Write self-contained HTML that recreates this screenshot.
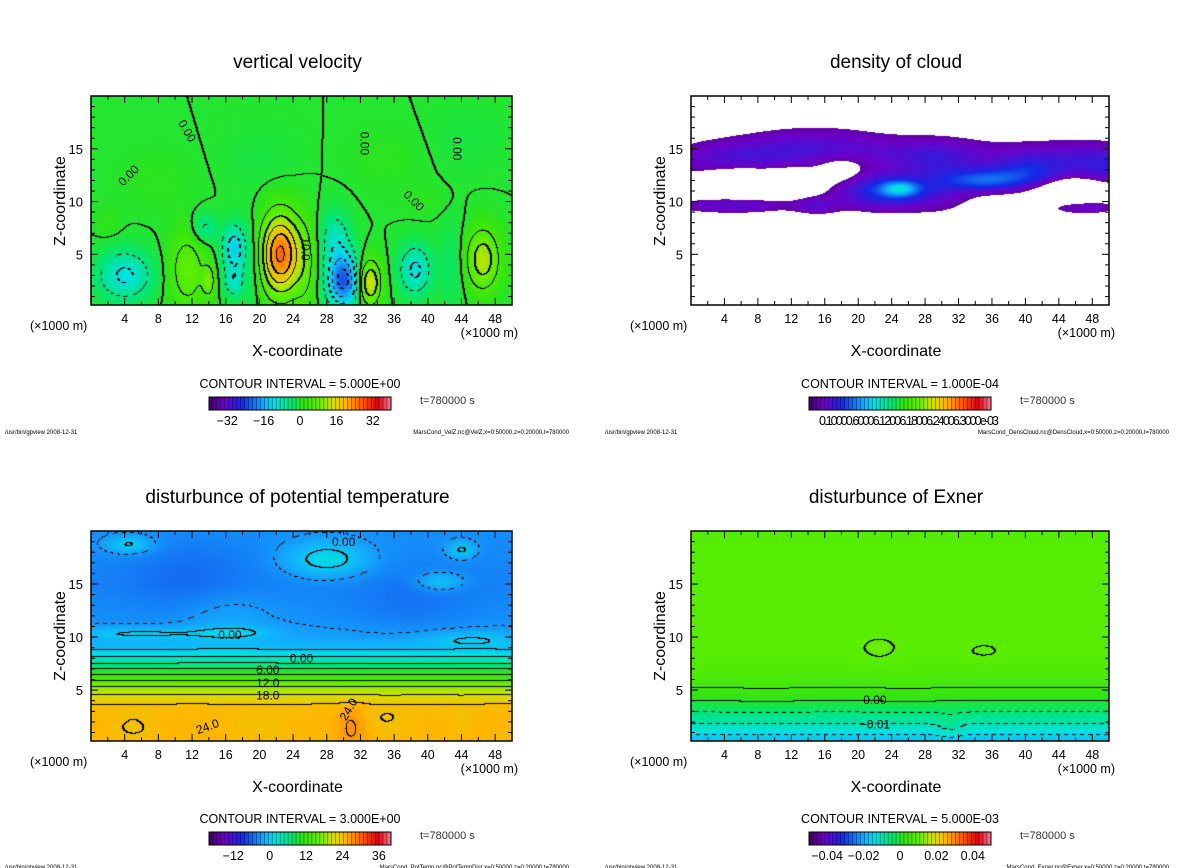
<!DOCTYPE html>
<html><head><meta charset="utf-8"><style>
html,body{margin:0;padding:0;background:#fff;}
#root{position:relative;width:1200px;height:868px;overflow:hidden;background:#fff;font-family:"Liberation Sans",sans-serif;}
canvas{position:absolute;}
svg{position:absolute;left:0;top:0;}
</style></head><body>
<div id="root">
<canvas id="c1" width="421" height="209" style="left:91px;top:96px"></canvas>
<canvas id="c2" width="418" height="209" style="left:691px;top:96px"></canvas>
<canvas id="c3" width="421" height="210" style="left:91px;top:531px"></canvas>
<canvas id="c4" width="418" height="210" style="left:691px;top:531px"></canvas>
<svg id="ov" width="1200" height="868"></svg>
</div>
<script>
// ---- data ----
const xTicks=[4,8,12,16,20,24,28,32,36,40,44,48];
const zTicks=[5,10,15];
const velCbLabels=[-32,-16,0,16,32];
const ptCbLabels=[-12,0,12,24,36];
const exCbLabels=[-0.04,-0.02,0,0.02,0.04];
// blobs: [x(km), z(km), sx, sz, amplitude]
const velBlobs=[[22.5,5,1.6,2.6,26],[30,2.5,1.4,1.8,-22],[29,6.5,1.2,1.8,-8],[17,5.5,1.0,1.6,-13],[17,2.3,0.8,1,-8],[33,2.3,1.0,1.5,16],[46.5,4.5,1.4,2,13],[4,3,2.2,1.6,-11],[38.5,3.5,1.3,1.6,-11],[11.5,3.5,1.5,2.5,8],[14,2.5,0.5,1,8],[13.5,7.5,1,1,-6],[25.5,4,1,3,5],[19.3,4,0.8,3,-3],[43,4,1.2,3,-3],[8,12,3,2,1],[20,14,3,2,-1],[35,14,3,2,1],[45,16,3,2,-1],[2,8,1,1,1.5],[40,10,2,1,1]];
const cloudBlobs=[[5,14,6,1.3,1.2],[15,15.3,6,1.3,1.1],[28,14.5,6,1.2,1.0],[44,14,6,1.3,1.2],[50,13,3,1.5,1.0],[5,9.6,5,0.5,1.2],[15,9.6,2,0.6,0.9],[23,11,4,1.2,2.2],[25,11.2,1.5,0.5,2.5],[35,12,3,0.7,2.2],[40,12.5,3,1,1.5],[30,12,3,2,1.0],[47,9.5,3,0.5,1.1],[6,12,3,0.8,-1.5],[12,12,2,0.7,-1.2],[46,11,3,0.8,-1.5],[18,13,2,1,-0.6]];
const ptProfileZ=[0,2,3.5,4.5,5.3,6,6.8,7.5,8.3,9,10,12,15,18,20];
const ptProfileV=[25,25,24.5,21,18,14,10,6,2,-1,-2.5,-3.5,-4.2,-3.8,-3.5];
const ptBlobs=[[28,17.3,3.5,1.2,5],[4.5,18.7,2,0.6,4],[44,18.2,1.2,0.6,4],[41.5,15.2,2,0.6,4],[6,10.3,6,0.4,3],[17,10.4,3,0.4,2.5],[45,9.8,4,0.5,2.5],[12,15.5,5,2.5,-1.5],[38,13,5,2,-1.2],[16,12,4,2,1.5],[31,1.5,1.2,1.5,2.5],[5,1.5,2,1,-1.2],[20,1.5,2.5,1,-1],[35,2,2.5,1,-1],[44,2,1,1,-0.8]];
const exProfileZ=[0,0.8,1.8,2.9,4.0,5.2,7,9,12,16,20];
const exProfileV=[-0.019,-0.015,-0.01,-0.005,0,0.005,0.0075,0.0085,0.0088,0.0085,0.008];
const exBlobs=[[22.5,8.8,1.8,0.9,0.0025],[35,8.6,1.8,0.6,0.0022],[9,4,3,1,0.0006],[26,4,3,1,0.0006],[31,1.5,1,0.8,0.003]];

const stops=[[0,60,0,100],[0.08,110,0,200],[0.18,20,40,230],[0.3,20,170,255],[0.36,0,225,230],[0.45,0,230,120],[0.52,50,228,20],[0.6,95,238,0],[0.68,210,225,0],[0.75,255,182,0],[0.85,255,80,0],[0.93,220,0,20],[1,240,130,150]];
function cmap(t){t=Math.max(0,Math.min(1,t));for(let i=1;i<stops.length;i++){if(t<=stops[i][0]){const a=stops[i-1],b=stops[i],f=(t-a[0])/(b[0]-a[0]);return [a[1]+(b[1]-a[1])*f,a[2]+(b[2]-a[2])*f,a[3]+(b[3]-a[3])*f];}}return stops[stops.length-1].slice(1);}
function blobSum(bl,x,z){let s=0;for(const b of bl){const dx=(x-b[0])/b[2],dz=(z-b[1])/b[3];s+=b[4]*Math.exp(-0.5*(dx*dx+dz*dz));}return s;}
function prof(Z,V,z){if(z<=Z[0])return V[0];for(let i=1;i<Z.length;i++){if(z<=Z[i]){const f=(z-Z[i-1])/(Z[i]-Z[i-1]);return V[i-1]+(V[i]-V[i-1])*f;}}return V[V.length-1];}
const ZMIN=0.2,ZMAX=20;
function render(id,fieldFn,tFn,ci,opts){
  const cv=document.getElementById(id),ctx=cv.getContext('2d'),W=cv.width,H=cv.height;
  const img=ctx.createImageData(W,H),d=img.data;
  const vals=new Float32Array(W*H);
  for(let py=0;py<H;py++)for(let px=0;px<W;px++){
    const x=(px+0.5)/W*50,z=ZMAX-(py+0.5)/H*(ZMAX-ZMIN);
    vals[py*W+px]=fieldFn(x,z);
  }
  for(let i=0;i<W*H;i++){
    const v=vals[i];let c;
    if(opts.threshold!==undefined&&v<opts.threshold)c=[255,255,255];else c=cmap(tFn(v));
    d[i*4]=c[0];d[i*4+1]=c[1];d[i*4+2]=c[2];d[i*4+3]=255;
  }
  if(ci){
    const lv=v=>Math.floor(v/ci);
    for(let py=0;py<H-1;py++)for(let px=0;px<W-1;px++){
      const i=py*W+px,a=lv(vals[i]),b=lv(vals[i+1]),c=lv(vals[i+W]);
      if(a!==b||a!==c){
        const lev=Math.max(a,b,c);
        if(lev<0&&((px+py)%8)>=4)continue;
        d[i*4]=0;d[i*4+1]=0;d[i*4+2]=0;
        if(opts.thick&&lev%2===0){const j=i+1;d[j*4]=0;d[j*4+1]=0;d[j*4+2]=0;}
      }
    }
  }
  ctx.putImageData(img,0,0);
}
render('c1',(x,z)=>blobSum(velBlobs,x,z),v=>(v+40)/80,5,{thick:true});
render('c2',(x,z)=>blobSum(cloudBlobs,x,z),v=>0.05+(v-0.5)*0.08,0,{threshold:0.5});
render('c3',(x,z)=>prof(ptProfileZ,ptProfileV,z)+blobSum(ptBlobs,x,z),v=>(v+20)/60,3,{thick:true});
render('c4',(x,z)=>prof(exProfileZ,exProfileV,z)+blobSum(exBlobs,x,z),v=>(v+0.05)/0.1,0.005,{thick:true});

// ---- overlay ----
const NS='http://www.w3.org/2000/svg',ov=document.getElementById('ov');
function el(tag,attrs,parent,text){const e=document.createElementNS(NS,tag);for(const k in attrs)e.setAttribute(k,attrs[k]);if(text!==undefined)e.textContent=text;(parent||ov).appendChild(e);return e;}
const panels=[
 {L:91,T:96,W:421,H:209,title:'vertical velocity',ci:'CONTOUR INTERVAL = 5.000E+00',cb:velCbLabels,cbMin:-40,cbMax:40,foot:'MarsCond_VelZ.nc@VelZ,x=0:50000,z=0:20000,t=780000',key:'velocity'},
 {L:691,T:96,W:418,H:209,title:'density of cloud',ci:'CONTOUR INTERVAL = 1.000E-04',cb:null,foot:'MarsCond_DensCloud.nc@DensCloud,x=0:50000,z=0:20000,t=780000',key:'cloud'},
 {L:91,T:531,W:421,H:210,title:'disturbunce of potential temperature',ci:'CONTOUR INTERVAL = 3.000E+00',cb:ptCbLabels,cbMin:-20,cbMax:40,foot:'MarsCond_PotTemp.nc@PotTempDist,x=0:50000,z=0:20000,t=780000',key:'pottemp'},
 {L:691,T:531,W:418,H:210,title:'disturbunce of Exner',ci:'CONTOUR INTERVAL = 5.000E-03',cb:exCbLabels,cbMin:-0.05,cbMax:0.05,foot:'MarsCond_Exner.nc@Exner,x=0:50000,z=0:20000,t=780000',key:'exner'}
];
panels.forEach(p=>{
  const g=el('g',{});
  
  
  const sx=x=>p.L+x/50*p.W, sz=z=>p.T+p.H*(ZMAX-z)/(ZMAX-ZMIN);
  const t=el('text',{x:p.L+p.W/2-4,y:p.T-28,'font-size':19,'text-anchor':'middle',fill:'#000'},g,p.title);
  
  const fr=el('rect',{x:p.L,y:p.T,width:p.W,height:p.H,fill:'none',stroke:'#000','stroke-width':1.5},g);
  
  for(let xv=2;xv<50;xv+=2){const maj=xv%4===0,len=maj?7:4;
    el('line',{x1:sx(xv),x2:sx(xv),y1:p.T+p.H,y2:p.T+p.H-len,stroke:'#000'},g);
    el('line',{x1:sx(xv),x2:sx(xv),y1:p.T,y2:p.T+len,stroke:'#000'},g);}
  for(let zv=1;zv<20;zv++){const maj=zv%5===0,len=maj?7:4;
    el('line',{x1:p.L,x2:p.L+len,y1:sz(zv),y2:sz(zv),stroke:'#000'},g);
    el('line',{x1:p.L+p.W,x2:p.L+p.W-len,y1:sz(zv),y2:sz(zv),stroke:'#000'},g);}
  xTicks.forEach(v=>{const tl=el('text',{x:sx(v),y:p.T+p.H+18,'font-size':12.5,'text-anchor':'middle'},g,String(v));
    });
  zTicks.forEach(v=>{const tl=el('text',{x:p.L-8,y:sz(v)+5,'font-size':13,'text-anchor':'end'},g,String(v));
    });
  el('text',{x:p.L-61,y:p.T+p.H+25,'font-size':12.5},g,'(\u00d71000 m)');
  el('text',{x:p.L+p.W+6,y:p.T+p.H+32,'font-size':12.5,'text-anchor':'end'},g,'(\u00d71000 m)');
  const xl=el('text',{x:p.L+p.W/2-4,y:p.T+p.H+51,'font-size':16,'text-anchor':'middle'},g,'X-coordinate');
  
  const zl=el('text',{x:0,y:0,'font-size':16,'text-anchor':'middle',transform:`translate(${p.L-26},${p.T+105}) rotate(-90)`},g,'Z-coordinate');
  
  el('text',{x:p.L+209,y:p.T+292,'font-size':12.5,'text-anchor':'middle'},g,p.ci);
  // colorbar
  const cbx=p.L+118,cbw=182,cby=p.T+301,cbh=13,n=46;
  const cbg=el('g',{},g);
  for(let i=0;i<n;i++){const c=cmap((i+0.5)/n);
    el('rect',{x:cbx+i*cbw/n,y:cby,width:cbw/n+0.3,height:cbh,fill:`rgb(${c.map(Math.round).join(',')})`},cbg);
    el('line',{x1:cbx+i*cbw/n,x2:cbx+i*cbw/n,y1:cby,y2:cby+cbh,stroke:'rgba(0,0,0,0.45)','stroke-width':0.8},cbg);}
  el('rect',{x:cbx,y:cby,width:cbw,height:cbh,fill:'none',stroke:'#000'},cbg);
  if(p.cb){p.cb.forEach(v=>{const px=cbx+(v-p.cbMin)/(p.cbMax-p.cbMin)*cbw;
    el('text',{x:px,y:cby+28,'font-size':12.5,'text-anchor':'middle'},cbg,v===0?'0':(v<0?'\u2212'+String(-v):String(v)));});}
  else{el('text',{x:cbx+100,y:cby+28,'font-size':12.5,'text-anchor':'middle',textLength:180},cbg,'0.10000.60006.12006.18006.24006.3000e-03');}
  el('text',{x:p.L+329,y:p.T+308,'font-size':11,fill:'#333'},g,'t=780000  s');
  el('text',{x:p.L-86,y:p.T+338,'font-size':6},g,'/usr/bin/gpview   2008-12-31');
  el('text',{x:p.L+478,y:p.T+338,'font-size':6,'text-anchor':'end'},g,p.foot);
});
// contour labels
function lab(pi,x,z,s,rot){const p=panels[pi];const px=p.L+x/50*p.W,py=p.T+p.H*(ZMAX-z)/(ZMAX-ZMIN);
  const t=el('text',{x:px,y:py,'font-size':12,'text-anchor':'middle',transform:rot?`rotate(${rot},${px},${py})`:''},ov,s);
  }
lab(0,25,5.5,'10.0',90);lab(0,4.8,12.2,'0.00',-45);lab(0,11,16.5,'0.00',60);lab(0,32,15.5,'0.00',90);lab(0,43,15,'0.00',90);lab(0,38,9.8,'0.00',45);
lab(2,16.5,9.8,'0.00');lab(2,25,7.6,'0.00');lab(2,21,6.5,'6.00');lab(2,21,5.3,'12.0');lab(2,21,4.1,'18.0');lab(2,14,1.2,'24.0',-20);lab(2,31,3,'24.0',-60);lab(2,30,18.6,'0.00');
lab(3,22,3.7,'0.00');lab(3,22,1.4,'\u22120.01');
</script>
</body></html>
